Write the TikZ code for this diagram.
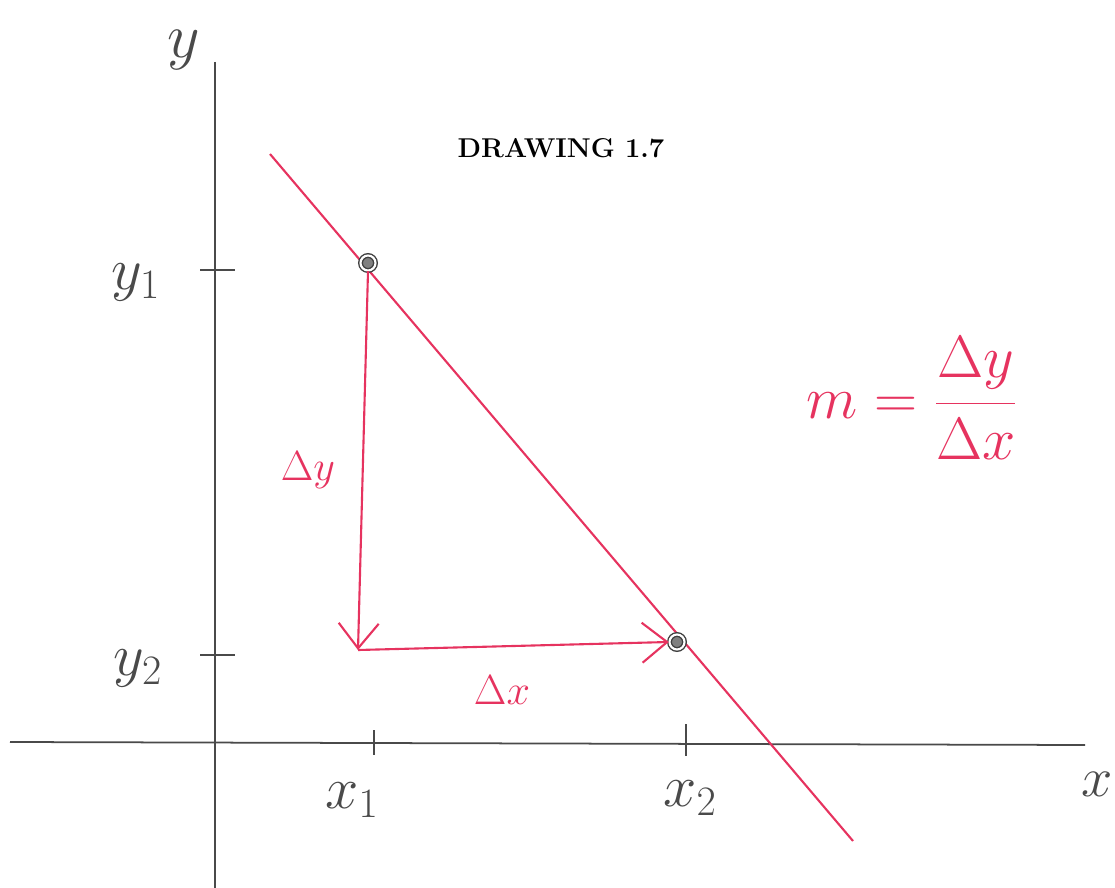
\RequirePackage{fix-cm}
\documentclass[tikz,border=0pt]{standalone}
\usepackage{xcolor}
\usepackage{tikz}
\usetikzlibrary{arrows.meta,positioning,calc}
\definecolor{penred}{HTML}{E6335F}
\definecolor{pencil}{HTML}{4A4A4A}
\tikzset{
  axisline/.style={draw=pencil, line width=1pt},
  tickmark/.style={draw=pencil, line width=1pt},
  penline/.style={draw=penred, line width=1.2pt},
  penarrow/.style={penline, -{Straight Barb[length=5mm, width=8mm]}},
  pointdot/.style={circle, draw=black!75, fill=black!50, double=white,
    double distance=1.2pt, line width=0.8pt, minimum size=0.3cm, inner sep=0pt},
  axislabel/.style={text=pencil, inner sep=0pt, font=\fontsize{#1}{#1}\selectfont},
  axislabel/.default=34,
  redlabel/.style={text=penred, inner sep=0pt, font=\fontsize{#1}{#1}\selectfont},
  redlabel/.default=24,
}

\begin{document}
\begin{tikzpicture}[x=0.02cm, y=-0.02cm]
  \useasboundingbox (0,0) rectangle (1115,888);
  % axes
  \draw[axisline] (215,62) -- (215,888);
  \draw[axisline] (10,742) -- (1085,745);
  \node[axislabel=36] (ylab) at (184,50) {$y$};
  \node[axislabel=32] (xlab) at (1097,784) {$x$};
  % ticks
  \coordinate (ty1) at (215,270);
  \coordinate (ty2) at (215,655);
  \coordinate (tx1) at (374,743);
  \coordinate (tx2) at (686,744);
  \draw[tickmark] ($(ty1)+(-15,0)$) -- ($(ty1)+(20,0)$);
  \draw[tickmark] ($(ty2)+(-15,0)$) -- ($(ty2)+(20,0)$);
  \draw[tickmark] ($(tx1)+(0,-13)$) -- ($(tx1)+(0,12)$);
  \draw[tickmark] ($(tx2)+(0,-20)$) -- ($(tx2)+(0,12)$);
  \node[axislabel] (y1lab) at (136,282) {$y_1$};
  \node[axislabel] (y2lab) at (138,668) {$y_2$};
  \node[axislabel] (x1lab) at (352,800) {$x_1$};
  \node[axislabel] (x2lab) at (690,798) {$x_2$};
  % title
  \node[font=\fontsize{15.5}{18}\selectfont\bfseries] (title) at (561,148) {DRAWING 1.7};
  % secant line and points
  \coordinate (lt) at (270,154);
  \coordinate (lb) at (853,841);
  \draw[penline] (lt) -- (lb);
  \coordinate (corner) at (358,650);
  \node[pointdot] (p1) at (368,263) {};
  \node[pointdot] (p2) at (677,642) {};
  \draw[penarrow] (p1.south) -- (corner);
  \draw[penarrow] (corner) -- (p2.west);
  \node[redlabel] (dy) at (308,470) {$\Delta y$};
  \node[redlabel] (dx) at (502,690) {$\Delta x$};
  % slope formula
  \node[redlabel=34] (slope) at (912,398) {$m = \displaystyle\frac{\Delta y}{\Delta x}$};
\end{tikzpicture}
\end{document}
